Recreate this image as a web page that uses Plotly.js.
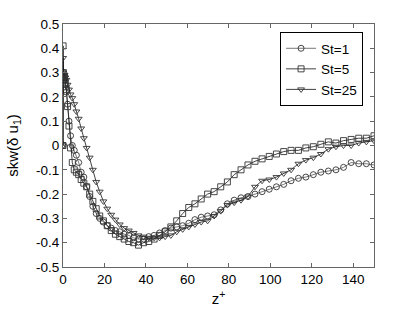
<!DOCTYPE html>
<html>
<head>
<meta charset="utf-8">
<script src="https://cdn.plot.ly/plotly-3.0.1.min.js"></script>
<style>html,body{margin:0;padding:0;background:#fff;}#chart{width:414px;height:311px;}</style>
</head>
<body>
<div id="chart"></div>
<script>
// wall-normal positions z+
const zPlus = [0, 0.05, 0.18, 0.41, 0.72, 1.13, 1.62, 2.21, 2.88, 3.64, 4.49, 5.43, 6.46, 7.57, 8.77,
  10.05, 11.42, 12.87, 14.4, 16.02, 17.71, 19.49, 21.34, 23.27, 25.28, 27.36, 29.52, 31.75, 34.05,
  36.42, 38.86, 41.36, 43.93, 46.57, 49.27, 52.02, 54.84, 57.72, 60.65, 63.63, 66.66, 69.75, 72.89,
  76.07, 79.29, 82.56, 85.87, 89.21, 92.6, 96.02, 99.47, 102.95, 106.46, 110.0, 113.55, 117.13,
  120.74, 124.36, 127.99, 131.64, 135.3, 138.97, 142.64, 146.32, 150];

const skwSt1 = [0, 0.30, 0.29, 0.28, 0.27, 0.25, 0.22, 0.17, 0.10, 0.04, 0.0, -0.02, -0.04, -0.07, -0.11,
  -0.13, -0.17, -0.21, -0.25, -0.28, -0.30, -0.315, -0.33, -0.34, -0.35, -0.355, -0.365, -0.37, -0.38,
  -0.385, -0.385, -0.375, -0.37, -0.36, -0.35, -0.34, -0.335, -0.33, -0.32, -0.305, -0.295, -0.29, -0.285,
  -0.265, -0.24, -0.225, -0.215, -0.21, -0.20, -0.19, -0.18, -0.17, -0.16, -0.145, -0.135, -0.13,
  -0.12, -0.11, -0.105, -0.10, -0.09, -0.07, -0.075, -0.075, -0.08];

const skwSt5 = [0, 0.41, 0.30, 0.29, 0.28, 0.26, 0.23, 0.16, 0.08, -0.01, -0.07, -0.10, -0.11, -0.12, -0.14,
  -0.155, -0.17, -0.20, -0.23, -0.26, -0.29, -0.31, -0.33, -0.35, -0.365, -0.375, -0.385, -0.395, -0.40,
  -0.41, -0.40, -0.395, -0.385, -0.37, -0.355, -0.335, -0.31, -0.28, -0.255, -0.24, -0.22, -0.20, -0.19,
  -0.17, -0.15, -0.12, -0.10, -0.08, -0.065, -0.055, -0.045, -0.035, -0.025, -0.02, -0.02, -0.01,
  -0.005, 0.005, 0.015, 0.01, 0.02, 0.025, 0.03, 0.03, 0.04];

const skwSt25 = [0, 0.36, 0.30, 0.29, 0.29, 0.28, 0.27, 0.25, 0.23, 0.21, 0.195, 0.17, 0.14, 0.11, 0.07,
  0.03, -0.01, -0.05, -0.10, -0.15, -0.19, -0.23, -0.26, -0.285, -0.305, -0.325, -0.34, -0.35, -0.36,
  -0.37, -0.375, -0.38, -0.38, -0.38, -0.375, -0.37, -0.355, -0.345, -0.335, -0.325, -0.315, -0.31, -0.29,
  -0.27, -0.245, -0.235, -0.225, -0.21, -0.17, -0.145, -0.14, -0.13, -0.115, -0.10, -0.075, -0.06,
  -0.05, -0.035, -0.015, -0.005, 0.0, 0.0, 0.01, 0.015, 0.02];

const seriesNames = ['St=1', 'St=5', 'St=25'];
const xTickVals = [0, 20, 40, 60, 80, 100, 120, 140];
const yTickVals = [0.5, 0.4, 0.3, 0.2, 0.1, 0, -0.1, -0.2, -0.3, -0.4, -0.5];
const yTickText = ['0.5', '0.4', '0.3', '0.2', '0.1', '0', '-0.1', '-0.2', '-0.3', '-0.4', '-0.5'];

const symbols = ['circle-open', 'square-open', 'triangle-down-open'];
const ys = [skwSt1, skwSt5, skwSt25];
const lineColors = ['#555', '#111', '#111'];

const traces = ys.map((y, i) => ({
  x: zPlus, y: y, name: seriesNames[i], type: 'scatter', mode: 'lines+markers',
  line: {color: lineColors[i], width: 0.8},
  marker: {symbol: symbols[i], size: 6, color: '#333', line: {width: 0.9, color: '#333'}}
}));

const axisCommon = {
  showgrid: false, zeroline: false, showline: true, linecolor: '#666', linewidth: 1,
  mirror: 'ticks', ticks: 'inside', ticklen: 4, tickcolor: '#666', tickwidth: 1,
  tickfont: {family: 'Liberation Sans, Arial, sans-serif', size: 13.5, color: '#000'}
};

const layout = {
  width: 414, height: 311,
  margin: {l: 63, r: 40, t: 24, b: 44},
  paper_bgcolor: '#fff', plot_bgcolor: '#fff',
  showlegend: true,
  legend: {
    x: 0.698, y: 0.967, xanchor: 'left', yanchor: 'top',
    bgcolor: '#fff', bordercolor: '#000', borderwidth: 1,
    font: {family: 'Liberation Sans, Arial, sans-serif', size: 13.5, color: '#000'},
    tracegroupgap: 0
  },
  xaxis: Object.assign({}, axisCommon, {
    range: [0, 150], tickvals: xTickVals,
    title: {text: 'z<sup>+</sup>', font: {family: 'Liberation Sans, Arial, sans-serif', size: 15, color: '#000'}, standoff: 7}
  }),
  yaxis: Object.assign({}, axisCommon, {
    range: [-0.5, 0.5], tickvals: yTickVals, ticktext: yTickText,
    title: {text: 'skw(δ u<sub>1</sub>)', font: {family: 'Liberation Sans, Arial, sans-serif', size: 15, color: '#000'}, standoff: 13}
  })
};

Plotly.newPlot('chart', traces, layout, {displayModeBar: false, staticPlot: true});
</script>
</body>
</html>
